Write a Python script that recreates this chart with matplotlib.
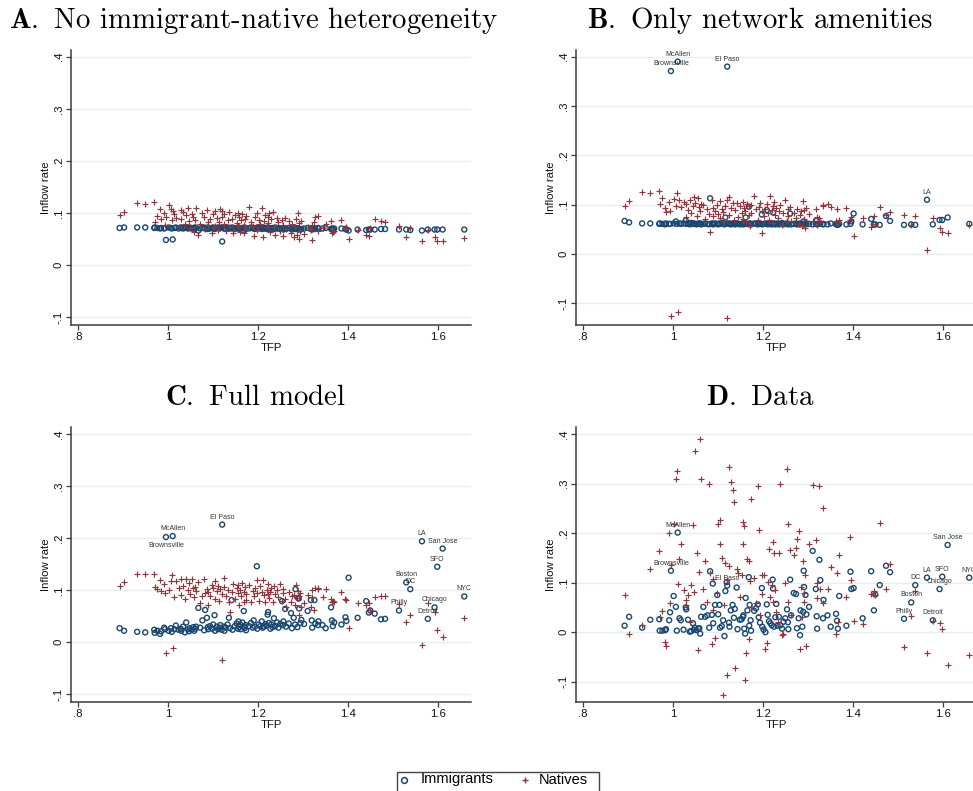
import matplotlib
matplotlib.use("Agg")
import matplotlib.pyplot as plt
from matplotlib.lines import Line2D
from matplotlib.patches import Rectangle

# ---------------- data (one entry per city, same order in every array) ----------------
TFP = [0.892, 0.902, 0.931, 0.949, 0.969, 0.970, 0.976, 0.982, 0.984, 0.991,
       0.995, 0.993, 1.001, 1.006, 1.010, 1.008, 1.014, 1.017, 1.023, 1.028,
       1.029, 1.033, 1.037, 1.040, 1.044, 1.046, 1.048, 1.052, 1.056, 1.058,
       1.060, 1.062, 1.067, 1.071, 1.076, 1.080, 1.082, 1.086, 1.088, 1.089,
       1.093, 1.098, 1.100, 1.103, 1.104, 1.108, 1.111, 1.114, 1.116, 1.119,
       1.120, 1.124, 1.125, 1.128, 1.132, 1.135, 1.137, 1.141, 1.143, 1.148,
       1.152, 1.155, 1.156, 1.158, 1.160, 1.161, 1.165, 1.168, 1.169, 1.170,
       1.172, 1.173, 1.180, 1.184, 1.188, 1.190, 1.193, 1.197, 1.198, 1.201,
       1.205, 1.208, 1.210, 1.213, 1.216, 1.219, 1.221, 1.222, 1.224, 1.227,
       1.229, 1.232, 1.235, 1.238, 1.242, 1.245, 1.249, 1.253, 1.255, 1.256,
       1.260, 1.262, 1.268, 1.273, 1.275, 1.279, 1.282, 1.283, 1.287, 1.289,
       1.290, 1.291, 1.294, 1.296, 1.302, 1.310, 1.317, 1.319, 1.320, 1.325,
       1.327, 1.333, 1.334, 1.343, 1.350, 1.362, 1.364, 1.366, 1.369, 1.385,
       1.394, 1.396, 1.401, 1.421, 1.440, 1.446, 1.449, 1.459, 1.473, 1.482,
       1.513, 1.529, 1.538, 1.564, 1.577, 1.592, 1.598, 1.610, 1.658]

CITY_LABELS = {"Brownsville": 10, "McAllen": 14, "El Paso": 50, "Philly": 140,
               "Boston": 141, "DC": 142, "LA": 143, "Detroit": 144,
               "Chicago": 145, "SFO": 146, "San Jose": 147, "NYC": 148}

A_IMM = [0.071, 0.072, 0.072, 0.072, 0.071, 0.072, 0.071, 0.070, 0.071, 0.070,
         0.048, 0.071, 0.072, 0.071, 0.049, 0.070, 0.071, 0.072, 0.070, 0.071,
         0.072, 0.070, 0.071, 0.072, 0.070, 0.071, 0.072, 0.070, 0.071, 0.069,
         0.072, 0.071, 0.066, 0.070, 0.071, 0.072, 0.070, 0.071, 0.069, 0.072,
         0.070, 0.071, 0.072, 0.070, 0.069, 0.071, 0.072, 0.070, 0.071, 0.072,
         0.045, 0.070, 0.071, 0.069, 0.072, 0.070, 0.071, 0.070, 0.072, 0.069,
         0.071, 0.070, 0.072, 0.071, 0.069, 0.070, 0.071, 0.066, 0.072, 0.070,
         0.071, 0.069, 0.070, 0.072, 0.071, 0.070, 0.069, 0.071, 0.072, 0.070,
         0.071, 0.069, 0.072, 0.070, 0.071, 0.069, 0.070, 0.072, 0.071, 0.069,
         0.070, 0.071, 0.069, 0.072, 0.070, 0.071, 0.069, 0.070, 0.071, 0.068,
         0.070, 0.069, 0.071, 0.070, 0.068, 0.070, 0.069, 0.071, 0.070, 0.068,
         0.069, 0.070, 0.068, 0.069, 0.070, 0.071, 0.069, 0.070, 0.068, 0.070,
         0.069, 0.071, 0.070, 0.070, 0.071, 0.069, 0.070, 0.069, 0.070, 0.070,
         0.069, 0.068, 0.066, 0.068, 0.067, 0.068, 0.068, 0.068, 0.069, 0.069,
         0.068, 0.068, 0.067, 0.066, 0.068, 0.068, 0.068, 0.068, 0.068]

A_NAT = [0.095, 0.101, 0.119, 0.117, 0.121, 0.083, 0.094, 0.107, 0.088, 0.099,
         0.092, 0.076, 0.115, 0.108, 0.104, 0.086, 0.097, 0.091, 0.073, 0.106,
         0.088, 0.102, 0.079, 0.095, 0.109, 0.085, 0.071, 0.097, 0.092, 0.064,
         0.087, 0.109, 0.058, 0.079, 0.100, 0.092, 0.069, 0.105, 0.083, 0.076,
         0.089, 0.061, 0.098, 0.104, 0.075, 0.090, 0.067, 0.083, 0.107, 0.093,
         0.104, 0.079, 0.097, 0.065, 0.086, 0.101, 0.072, 0.088, 0.062, 0.095,
         0.081, 0.099, 0.075, 0.092, 0.064, 0.087, 0.098, 0.077, 0.061, 0.089,
         0.094, 0.069, 0.111, 0.083, 0.074, 0.055, 0.092, 0.100, 0.067, 0.086,
         0.078, 0.109, 0.054, 0.085, 0.096, 0.072, 0.093, 0.081, 0.099, 0.064,
         0.088, 0.102, 0.073, 0.058, 0.090, 0.083, 0.066, 0.087, 0.077, 0.056,
         0.091, 0.069, 0.085, 0.062, 0.079, 0.053, 0.073, 0.088, 0.058, 0.100,
         0.081, 0.049, 0.066, 0.085, 0.059, 0.072, 0.068, 0.077, 0.048, 0.082,
         0.093, 0.066, 0.094, 0.071, 0.078, 0.085, 0.062, 0.064, 0.066, 0.086,
         0.070, 0.073, 0.049, 0.067, 0.058, 0.055, 0.070, 0.088, 0.085, 0.083,
         0.074, 0.054, 0.070, 0.046, 0.067, 0.054, 0.046, 0.046, 0.052]

B_IMM = [0.067, 0.064, 0.062, 0.062, 0.061, 0.062, 0.061, 0.060, 0.062, 0.061,
         0.371, 0.061, 0.062, 0.066, 0.390, 0.061, 0.062, 0.061, 0.062, 0.068,
         0.061, 0.062, 0.060, 0.063, 0.061, 0.062, 0.061, 0.060, 0.062, 0.061,
         0.062, 0.060, 0.061, 0.062, 0.061, 0.060, 0.113, 0.062, 0.061, 0.060,
         0.062, 0.061, 0.060, 0.062, 0.061, 0.063, 0.061, 0.060, 0.074, 0.062,
         0.380, 0.061, 0.062, 0.060, 0.061, 0.062, 0.060, 0.061, 0.062, 0.060,
         0.061, 0.062, 0.060, 0.061, 0.062, 0.074, 0.061, 0.096, 0.060, 0.062,
         0.061, 0.060, 0.062, 0.061, 0.060, 0.063, 0.061, 0.080, 0.060, 0.061,
         0.062, 0.089, 0.060, 0.061, 0.062, 0.060, 0.061, 0.084, 0.062, 0.060,
         0.061, 0.062, 0.060, 0.061, 0.063, 0.060, 0.061, 0.062, 0.060, 0.061,
         0.082, 0.060, 0.061, 0.062, 0.060, 0.061, 0.060, 0.062, 0.061, 0.060,
         0.066, 0.061, 0.060, 0.062, 0.061, 0.060, 0.061, 0.068, 0.060, 0.061,
         0.062, 0.060, 0.061, 0.060, 0.062, 0.060, 0.061, 0.059, 0.061, 0.060,
         0.061, 0.066, 0.082, 0.060, 0.071, 0.060, 0.060, 0.059, 0.077, 0.067,
         0.059, 0.060, 0.059, 0.110, 0.060, 0.069, 0.069, 0.074, 0.061]

B_NAT = [0.097, 0.107, 0.125, 0.123, 0.127, 0.101, 0.114, 0.093, 0.085, 0.105,
         -0.125, 0.088, 0.112, 0.098, -0.117, 0.123, 0.109, 0.096, 0.106, 0.074,
         0.101, 0.090, 0.110, 0.083, 0.097, 0.116, 0.104, 0.078, 0.113, 0.095,
         0.087, 0.102, 0.099, 0.070, 0.091, 0.082, 0.045, 0.109, 0.077, 0.094,
         0.088, 0.099, 0.081, 0.108, 0.072, 0.092, 0.085, 0.066, 0.097, 0.110,
         -0.129, 0.115, 0.079, 0.093, 0.103, 0.068, 0.089, 0.104, 0.075, 0.098,
         0.083, 0.105, 0.071, 0.094, 0.088, 0.064, 0.102, 0.097, 0.079, 0.057,
         0.100, 0.084, 0.117, 0.091, 0.069, 0.095, 0.104, 0.042, 0.088, 0.076,
         0.092, 0.101, 0.083, 0.068, 0.118, 0.089, 0.097, 0.063, 0.105, 0.080,
         0.093, 0.072, 0.088, 0.099, 0.059, 0.084, 0.110, 0.067, 0.091, 0.078,
         0.095, 0.066, 0.084, 0.072, 0.092, 0.061, 0.079, 0.087, 0.056, 0.107,
         0.070, 0.089, 0.053, 0.093, 0.081, 0.067, 0.091, 0.058, 0.075, 0.072,
         0.064, 0.098, 0.100, 0.102, 0.096, 0.066, 0.092, 0.063, 0.068, 0.093,
         0.068, 0.075, 0.036, 0.072, 0.055, 0.077, 0.060, 0.095, 0.079, 0.085,
         0.080, 0.059, 0.076, 0.009, 0.072, 0.052, 0.045, 0.042, 0.058]

C_IMM = [0.027, 0.022, 0.020, 0.019, 0.024, 0.018, 0.022, 0.016, 0.021, 0.028,
         0.202, 0.025, 0.022, 0.027, 0.204, 0.020, 0.025, 0.032, 0.024, 0.026,
         0.022, 0.030, 0.019, 0.038, 0.025, 0.021, 0.027, 0.024, 0.029, 0.022,
         0.026, 0.030, 0.066, 0.028, 0.042, 0.023, 0.062, 0.047, 0.029, 0.025,
         0.031, 0.026, 0.034, 0.052, 0.022, 0.030, 0.025, 0.028, 0.033, 0.024,
         0.226, 0.030, 0.022, 0.028, 0.034, 0.047, 0.027, 0.081, 0.024, 0.031,
         0.036, 0.026, 0.040, 0.029, 0.034, 0.025, 0.038, 0.060, 0.030, 0.027,
         0.033, 0.023, 0.031, 0.037, 0.028, 0.042, 0.030, 0.146, 0.026, 0.034,
         0.031, 0.040, 0.028, 0.030, 0.035, 0.032, 0.053, 0.058, 0.037, 0.026,
         0.034, 0.029, 0.046, 0.031, 0.038, 0.028, 0.035, 0.079, 0.033, 0.040,
         0.064, 0.030, 0.036, 0.056, 0.027, 0.047, 0.034, 0.102, 0.029, 0.085,
         0.084, 0.065, 0.037, 0.043, 0.035, 0.060, 0.081, 0.042, 0.028, 0.081,
         0.036, 0.033, 0.040, 0.033, 0.027, 0.067, 0.042, 0.031, 0.038, 0.034,
         0.048, 0.041, 0.124, 0.047, 0.079, 0.057, 0.061, 0.055, 0.044, 0.045,
         0.061, 0.115, 0.102, 0.194, 0.045, 0.067, 0.145, 0.180, 0.088]

C_NAT = [0.108, 0.116, 0.132, 0.131, 0.131, 0.107, 0.103, 0.120, 0.098, 0.112,
         -0.021, 0.095, 0.101, 0.118, -0.012, 0.129, 0.086, 0.117, 0.105, 0.121,
         0.090, 0.109, 0.084, 0.121, 0.100, 0.113, 0.092, 0.121, 0.104, 0.087,
         0.107, 0.099, 0.116, 0.075, 0.089, 0.121, 0.094, 0.102, 0.072, 0.097,
         0.088, 0.110, 0.104, 0.084, 0.117, 0.098, 0.109, 0.080, 0.102, 0.093,
         -0.035, 0.123, 0.106, 0.089, 0.100, 0.078, 0.058, 0.097, 0.111, 0.083,
         0.104, 0.094, 0.110, 0.072, 0.101, 0.088, 0.113, 0.078, 0.097, 0.106,
         0.082, 0.092, 0.110, 0.077, 0.099, 0.088, 0.104, 0.120, 0.094, 0.080,
         0.108, 0.096, 0.119, 0.090, 0.078, 0.101, 0.092, 0.112, 0.085, 0.097,
         0.104, 0.078, 0.109, 0.092, 0.101, 0.086, 0.111, 0.079, 0.094, 0.103,
         0.083, 0.068, 0.097, 0.078, 0.088, 0.091, 0.072, 0.110, 0.085, 0.098,
         0.052, 0.088, 0.094, 0.067, 0.075, 0.091, 0.068, 0.086, 0.100, 0.062,
         0.104, 0.102, 0.104, 0.086, 0.102, 0.083, 0.077, 0.079, 0.078, 0.097,
         0.083, 0.081, 0.028, 0.076, 0.072, 0.076, 0.061, 0.086, 0.089, 0.088,
         0.073, 0.038, 0.053, -0.005, 0.076, 0.058, 0.023, 0.011, 0.047]

D_IMM = [0.013, 0.031, 0.009, 0.025, 0.026, 0.003, 0.003, 0.004, 0.006, 0.024,
         0.124, 0.040, 0.073, 0.051, 0.201, 0.003, 0.028, 0.024, 0.005, 0.050,
         0.046, 0.025, 0.001, 0.002, 0.018, 0.005, 0.009, 0.004, 0.007, 0.008,
         -0.003, 0.031, 0.051, 0.031, 0.034, 0.009, 0.123, 0.035, 0.098, 0.018,
         0.055, 0.075, 0.036, 0.055, 0.009, 0.012, 0.024, -0.008, 0.083, 0.101,
         0.094, 0.019, 0.011, 0.044, 0.055, 0.029, 0.047, 0.090, 0.006, 0.025,
         0.026, 0.031, 0.034, 0.007, -0.003, 0.069, 0.044, 0.111, 0.013, 0.055,
         0.024, 0.003, 0.043, 0.048, 0.056, 0.030, 0.019, 0.089, 0.011, 0.005,
         0.000, 0.056, 0.035, 0.022, 0.018, 0.014, 0.106, 0.088, 0.011, 0.030,
         0.057, 0.013, 0.031, 0.014, 0.007, 0.021, 0.028, 0.046, 0.020, 0.006,
         0.106, 0.034, 0.079, 0.077, 0.008, 0.028, -0.006, 0.044, 0.011, 0.041,
         0.124, 0.091, 0.075, 0.036, 0.051, 0.164, 0.087, 0.032, 0.007, 0.146,
         0.105, 0.028, 0.065, 0.034, 0.011, 0.037, 0.023, 0.007, 0.073, 0.013,
         0.122, 0.087, 0.089, 0.028, 0.123, 0.044, 0.076, 0.095, 0.134, 0.121,
         0.027, 0.060, 0.095, 0.110, 0.024, 0.087, 0.112, 0.176, 0.110]

D_NAT = [0.074, -0.003, 0.015, 0.127, 0.164, 0.030, 0.043, -0.020, -0.028, 0.201,
         0.135, 0.058, 0.218, 0.310, 0.098, 0.325, 0.147, 0.177, 0.085, 0.065,
         0.055, 0.075, 0.020, 0.095, 0.217, 0.081, 0.366, 0.160, -0.036, 0.122,
         0.389, 0.309, 0.088, 0.144, 0.060, 0.299, 0.120, -0.023, 0.108, 0.045,
         -0.011, 0.080, 0.219, 0.227, 0.177, 0.150, -0.127, 0.055, 0.140, -0.086,
         0.105, 0.134, 0.333, 0.304, 0.287, 0.262, -0.072, 0.128, 0.119, 0.070,
         0.115, 0.177, 0.222, 0.215, -0.097, -0.042, 0.148, 0.144, -0.013, 0.103,
         0.268, 0.050, 0.110, 0.058, 0.294, 0.207, 0.035, 0.116, 0.077, 0.116,
         -0.035, -0.022, 0.102, 0.168, 0.070, 0.095, 0.181, 0.060, 0.160, 0.085,
         0.040, 0.020, 0.160, 0.299, -0.005, -0.004, 0.100, 0.330, 0.060, 0.218,
         0.166, 0.035, 0.155, 0.169, 0.189, 0.205, -0.035, 0.092, 0.030, 0.143,
         0.080, 0.060, 0.116, -0.028, 0.177, 0.298, 0.186, 0.068, 0.100, 0.295,
         0.088, 0.251, 0.058, 0.088, 0.131, -0.003, 0.119, 0.020, 0.156, 0.071,
         0.193, 0.105, 0.023, 0.016, 0.078, 0.083, 0.075, 0.221, 0.087, 0.137,
         -0.030, 0.032, 0.084, -0.043, 0.023, 0.018, 0.006, -0.067, -0.046]

Y_TICKS = [-0.1, 0.0, 0.1, 0.2, 0.3, 0.4]
Y_TICK_LABELS = ["-.1", "0", ".1", ".2", ".3", ".4"]
X_TICKS = [0.8, 1.0, 1.2, 1.4, 1.6]
X_TICK_LABELS = [".8", "1", "1.2", "1.4", "1.6"]

PANEL_TITLES = [("A.", "No immigrant-native heterogeneity"),
                ("B.", "Only network amenities"),
                ("C.", "Full model"),
                ("D.", "Data")]
LEGEND_LABELS = ["Immigrants", "Natives"]

# ---------------- style ----------------
NAVY = "#1a476f"
MAROON = "#90353b"
AXCOL = "#3c3c3c"
GRID = "#e6eef0"
SANS = ["Liberation Sans", "DejaVu Sans"]
plt.rcParams["mathtext.fontset"] = "cm"
plt.rcParams["font.family"] = SANS

W, H = 973.0, 791.0
fig = plt.figure(figsize=(9.73, 7.91), dpi=100)
fig.patch.set_facecolor("white")


def fx(px):
    return px / W


def fy(py):
    return 1.0 - py / H


# (left, top, width, height) in pixels, ylim, label set, title centre and baseline
layout = [
    dict(rect=(71, 50, 400, 275), ylim=(-0.1154, 0.4129), tx=254, ty=28.3,
         imm=A_IMM, nat=A_NAT, labels=[]),
    dict(rect=(576, 50, 400, 275), ylim=(-0.144, 0.4136), tx=760, ty=28.3,
         imm=B_IMM, nat=B_NAT, labels=["McAllen", "Brownsville", "El Paso", "LA"]),
    dict(rect=(71, 427.3, 400, 274.4), ylim=(-0.1142, 0.4129), tx=255, ty=405,
         imm=C_IMM, nat=C_NAT, labels=list(CITY_LABELS.keys())),
    dict(rect=(576, 427.3, 400, 274.4), ylim=(-0.1404, 0.4135), tx=760, ty=405,
         imm=D_IMM, nat=D_NAT, labels=list(CITY_LABELS.keys())),
]

for i, p in enumerate(layout):
    l, t, w, h = p["rect"]
    ax = fig.add_axes([fx(l), fy(t + h), w / W, h / H])
    ax.set_xlim(0.784, 1.673)
    ax.set_ylim(*p["ylim"])
    for yv in Y_TICKS:
        ax.axhline(yv, color=GRID, lw=1.0, zorder=0)
    ax.scatter(TFP, p["imm"], s=13, facecolors="none", edgecolors=NAVY,
               linewidths=1.0, zorder=3, clip_on=False)
    ax.scatter(TFP, p["nat"], s=14, marker="+", color=MAROON,
               linewidths=0.85, zorder=4, clip_on=False)
    for name in p["labels"]:
        k = CITY_LABELS[name]
        below = (i == 2 and name == "Brownsville")
        ax.annotate(name, (TFP[k], p["imm"][k]), xytext=(0, -5.8 if below else 5.4),
                    textcoords="offset points", ha="center", va="center",
                    fontsize=5.0, color="#333333", zorder=5)
    for s in ["top", "right"]:
        ax.spines[s].set_visible(False)
    for s in ["left", "bottom"]:
        ax.spines[s].set_color(AXCOL)
        ax.spines[s].set_linewidth(1.1)
    ax.set_yticks(Y_TICKS)
    ax.set_yticklabels(Y_TICK_LABELS, rotation=90, va="center")
    ax.set_xticks(X_TICKS)
    ax.set_xticklabels(X_TICK_LABELS)
    ax.tick_params(axis="both", direction="out", length=3.3, width=0.9,
                   color=AXCOL, labelsize=8.2, pad=2, labelcolor="#111111")
    ax.set_xlabel("TFP", fontsize=8.2, color="#111111")
    ax.set_ylabel("Inflow rate", fontsize=8.2, color="#111111")
    ax.xaxis.set_label_coords(0.5, -0.067)
    ax.yaxis.set_label_coords(-0.049, 0.5)
    bold, rest = PANEL_TITLES[i]
    fig.text(fx(p["tx"]), fy(p["ty"]), r"$\mathbf{" + bold + r"}$ " + rest,
             ha="center", va="baseline", fontsize=20.8, family="cmr10")

# ---------------- legend (drawn in figure pixels) ----------------
fig.add_artist(Rectangle((fx(397), fy(800)), (599 - 397) / W, (800 - 772) / H,
                         transform=fig.transFigure, facecolor="white",
                         edgecolor="#444444", lw=1.0))
fig.add_artist(Line2D([fx(404)], [fy(779.5)], marker="o", ls="none", mfc="none",
                      mec=NAVY, ms=4.2, mew=1.1, transform=fig.transFigure))
fig.add_artist(Line2D([fx(525)], [fy(779.5)], marker="+", ls="none",
                      color=MAROON, ms=5.0, mew=1.0, transform=fig.transFigure))
fig.text(fx(421), fy(779.5), LEGEND_LABELS[0], ha="left", va="center", fontsize=10.5)
fig.text(fx(539), fy(779.5), LEGEND_LABELS[1], ha="left", va="center", fontsize=10.5)

fig.savefig("out.png", dpi=100, facecolor="white")
